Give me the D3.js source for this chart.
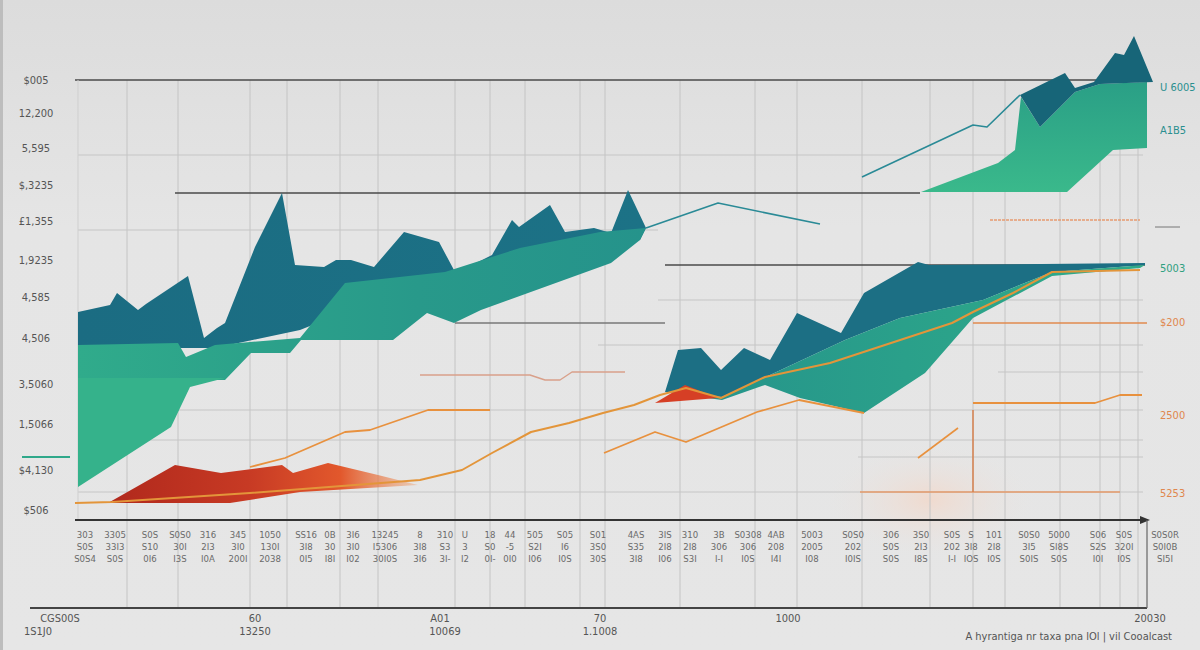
<!DOCTYPE html>
<html><head><meta charset="utf-8">
<script src="https://cdn.jsdelivr.net/npm/d3@7"></script>
<style>html,body{margin:0;padding:0;background:#e4e4e4;}svg{display:block;}</style>
</head><body>
<svg id="chart" width="1200" height="650"></svg>
<script>
// ---------- data (chart units) ----------
const leftTickLabels = ["$005","12,200","5,595","$,3235","£1,355","1,9235","4,585","4,506","3,5060","1,5066","$4,130","$506"];
const leftTickValues = [88,81.4,74.4,67,59.8,52,44.6,36.4,27.2,19.2,10,2];
const rightLabels = ["U 6005","A1B5","5003","$200","2500","5253"];
const rightValues = [86.6,78,50.4,39.6,21,5.4];
const rightKinds = ["teal","teal","green","orange","orange","orange"];

const darkLeft = [[0,41.6],[3.2,43],[3.9,45.4],[6,42],[6.8,43.2],[11,48.8],[12.6,36.4],[13.9,38.4],[14.7,39.4],[17.7,54.6],[20.4,65.4],[21.7,51],[24.6,50.6],[25.8,52],[27.3,52],[29.6,50.6],[32.6,57.6],[36.1,55.6],[37.6,50],[38.8,50.4],[41.4,53],[43.4,60],[44.1,58.6],[47.2,63],[48.7,57.6],[51.6,58.4],[53.3,57.4],[55,66],[56.8,58.4],[56.2,56],[44.2,53],[32.2,46],[22.2,38],[13.7,34.4],[0,34.4]];
const midLeft = [[0,35],[10,35.4],[10.8,32.6],[13.7,35],[22.2,36.4],[26.7,47.4],[36.7,49.6],[44.2,54.4],[52.2,57.6],[56.8,58.4],[56.2,56],[53.3,51.4],[40.3,42],[37.6,39.4],[34.9,41.4],[31.5,36],[22.3,36],[21.2,33.4],[17.3,33.4],[14.7,28],[0,28]];
const greenLeft = [[0,28.4],[14.7,28.4],[11.2,26.6],[9.3,18.6],[0,6.6]];
const darkRight = [[58.7,25.6],[60,34],[62.3,34.4],[64.3,30],[66.6,34.4],[69.2,32],[71.9,41.4],[76.3,37.4],[78.6,45.4],[84,51.6],[85.1,51],[106.7,51.4],[106.7,51],[97.4,49.6],[90.5,44],[82.2,40.4],[76.7,36],[69.2,29],[64.4,24.6]];
const midRight = [[58.7,25.6],[64.4,24.6],[69.2,29],[76.7,36],[82.2,40.4],[90.5,44],[97.4,49.6],[106.7,51],[106.2,50.4],[97.4,48.8],[89.5,40.4],[84.7,29.4],[78.6,21.4],[72.2,24.4],[68.7,27],[64.4,24]];
const darkTopRight = [[94.2,85],[98.7,89.4],[99.7,86.4],[101.6,87.6],[103.7,93.4],[104.6,93],[105.6,96.8],[107.5,87.6],[102.2,87.2],[99.7,85.6],[96.2,78.6]];
const greenTopRight = [[84.3,65.6],[92,71.4],[93.7,74],[94.3,84.6],[96.2,78.6],[99.7,85.6],[102.2,87.2],[106.9,87.6],[106.9,74.4],[103.5,74],[98.9,65.6]];
const redLeft = [[3,3.4],[9.7,11],[14.3,9.4],[20.4,11],[21.5,9.4],[25,11.4],[30,9],[34,7],[22.2,5.6],[15.2,3.4],[3.7,3.4]];
const redMid = [[57.7,23.4],[60.7,27],[64,24.4]];

const tealLine1 = [[78.4,68.6],[89.5,79],[90.9,78.6],[94.2,85]];
const tealLine2 = [[56.8,58.4],[64,63.4],[74.2,59.2]];
const orange1 = [[-0.3,3.4],[3.4,3.6],[17.2,5.4],[34.2,8],[38.4,10],[41.4,13.4],[45.3,17.6],[49.1,19.4],[52.5,21.4],[55.6,23],[58.2,25],[60.8,26.4],[64.3,24.4],[68.7,28.6],[75.2,31.4],[87.4,39.4],[89.5,41.6],[93.5,45.4],[97.4,49.6],[106.2,50]];
const orange2 = [[17.2,10.6],[20.7,12.4],[26.7,17.6],[29.2,18],[35,22],[41.2,22]];
const orange3 = [[52.6,13.4],[57.7,17.6],[60.8,15.6],[67.9,21.6],[72.1,24],[78.6,21.4]];
const orange4 = [[84,12.4],[88,18.4]];
const orange5 = [[89.5,23.4],[101.7,23.4],[104.2,25],[106.4,25]];
const salmon1 = [[34.2,29],[45.2,29],[46.7,28],[48.2,28],[49.4,29.6],[54.7,29.6]];
const salmon2 = [[91.2,60],[106.2,60]];
const orangeH1 = [[89.5,39.4],[106.9,39.4]];
const orangeH2 = [[78.2,5.6],[104.2,5.6]];
const orangeV = [[89.5,22],[89.5,5.6]];

const darkHLines = [[88,-0.3,107.2],[65.4,9.7,84.2],[51,58.7,106.7]];
const midHLines = [[39.4,37.7,58.7]];
const lightHLines = [[73,0,106.5],[58,0,58],[44,58,106.5],[35,52,106.5],[29.6,92,106.5],[22,0,106.5],[16,0,106.5],[12.6,78,106.5],[5.6,0,106.5]];
const vGrid = [4.9,10,17.2,20.9,26.2,30,37.7,41.2,44.7,50.2,52.7,60.2,67.7,71.9,78.4,85.2,89.5,92.7,98.2,102.2,104.2,106];

const colX = [0.7,3.7,7.2,10.2,13,16,19.2,22.8,25.2,27.5,30.7,34.2,36.7,38.7,41.2,43.2,45.7,48.7,52,55.8,58.7,61.2,64.1,67,69.8,73.4,77.5,81.3,84.3,87.4,89.3,91.6,95.1,98.1,102,104.6,108.7];
const row1 = ["303","3305","S0S","S0S0","316","345","1050","SS16","0B","3I6","13245","8","310","U","18","44","505","S05","S01","4AS","3IS","310","3B","S0308","4AB","5003","S0S0","306","3S0","S0S","S","101","S0S0","5000","S06","S0S","S0S0R"];
const row2 = ["S0S","33I3","S10","30I","2I3","3I0","130I","3I8","30","3I0","I5306","3I8","S3","3","S0","-5","S2I","I6","3S0","S35","2I8","2I8","306","306","208","2005","202","S0S","2I3","202","3I8","2I8","3I5","SI8S","S2S","320I","S0I0B"];
const row3 = ["S0S4","S0S","0I6","I3S","I0A","200I","2038","0I5","I8I","I02","30I0S","3I6","3I-","I2","0I-","0I0","I06","I0S","30S","3I8","I06","S3I","I-I","I0S","I4I","I08","I0IS","S0S","I8S","I-I","IOS","I0S","S0IS","S0S","I0I","I0S","SI5I"];
const lowerLabelsA = [["CGS00S",-1.8],["60",17.7],["A01",36.2],["70",52.2],["1000",71],["20030",107.2]];
const lowerLabelsB = [["1S1J0",-4],["13250",17.7],["10069",36.7],["1.1008",52.2]];
const footer = "A hyrantiga nr taxa pna lOl | vil Cooalcast";

// ---------- scales ----------
const x = d3.scaleLinear().domain([0,106.7]).range([78,1145]);
const y = d3.scaleLinear().domain([0,96]).range([520,40]);

const svg = d3.select("#chart");
const defs = svg.append("defs");
function lg(id, stops, x2="100%", y2="0%"){
  const g = defs.append("linearGradient").attr("id",id).attr("x1","0%").attr("y1","0%").attr("x2",x2).attr("y2",y2);
  stops.forEach(s=>g.append("stop").attr("offset",s[0]).attr("stop-color",s[1]).attr("stop-opacity",s[2]==null?1:s[2]));
}
lg("bg",[["0%","#dcdcdc"],["35%","#e5e5e5"],["100%","#e6e6e6"]],"0%","100%");
lg("mid",[["0%","#30ab8b"],["30%","#2ca28a"],["60%","#28998a"],["100%","#25938b"]]);
lg("darkG",[["0%","#1b6c82"],["100%","#1c7286"]]);
lg("red",[["0%","#b0281c"],["45%","#c73a24"],["75%","#e2582c"],["100%","#f08a4a",0.3]]);
lg("tr",[["0%","#2a9f86"],["100%","#3ab98b"]],"0%","100%");
lg("midR",[["0%","#25928b"],["50%","#2aa08a"],["100%","#30ab89"]]);
const rg = defs.append("radialGradient").attr("id","pink");
rg.append("stop").attr("offset","0%").attr("stop-color","#f1d9cc").attr("stop-opacity",0.9);
rg.append("stop").attr("offset","100%").attr("stop-color","#e6e6e6").attr("stop-opacity",0);

svg.append("rect").attr("width",1200).attr("height",650).attr("fill","url(#bg)");
svg.append("rect").attr("x",0).attr("y",0).attr("width",3).attr("height",650).attr("fill","#bdbdbd");
svg.append("ellipse").attr("cx",930).attr("cy",500).attr("rx",110).attr("ry",60).attr("fill","url(#pink)");

const line = d3.line().x(d=>x(d[0])).y(d=>y(d[1]));
const poly = (data, fill, op=1) => svg.append("path").attr("d", line(data)+"Z").attr("fill",fill).attr("opacity",op);
const path = (data, stroke, w, dash) => svg.append("path").attr("d", line(data)).attr("fill","none").attr("stroke",stroke).attr("stroke-width",w).attr("stroke-linejoin","round").attr("stroke-dasharray",dash||null);

// grid
const g = svg.append("g");
vGrid.forEach(v=>g.append("line").attr("x1",x(v)).attr("x2",x(v)).attr("y1",y(88)).attr("y2",y(-17.6)).attr("stroke","#c4c4c4").attr("stroke-width",1));
lightHLines.forEach(h=>g.append("line").attr("x1",x(h[1])).attr("x2",x(h[2])).attr("y1",y(h[0])).attr("y2",y(h[0])).attr("stroke","#c6c6c6").attr("stroke-width",1.2));
midHLines.forEach(h=>g.append("line").attr("x1",x(h[1])).attr("x2",x(h[2])).attr("y1",y(h[0])).attr("y2",y(h[0])).attr("stroke","#777").attr("stroke-width",1.5));
darkHLines.forEach(h=>g.append("line").attr("x1",x(h[1])).attr("x2",x(h[2])).attr("y1",y(h[0])).attr("y2",y(h[0])).attr("stroke","#4a4a4a").attr("stroke-width",1.6));
g.append("line").attr("x1",x(0)).attr("x2",x(0)).attr("y1",y(88)).attr("y2",y(0)).attr("stroke","#cfcfcf");

// areas
poly(darkLeft,"url(#darkG)");
poly(midLeft,"url(#mid)");
poly(greenLeft,"#35b28b");
poly(darkRight,"#1c6f84");
poly(midRight,"url(#midR)");
poly(greenTopRight,"url(#tr)");
poly(darkTopRight,"#176578");
poly(redLeft,"url(#red)");
poly(redMid,"#d63f25");

// lines
path(tealLine1,"#2a8a96",1.6);
path(tealLine2,"#2a8a96",1.6);
path(salmon1,"#d9a08a",1.4);
path(salmon2,"#e69a70",1.4,"3,1");
path(orangeH1,"#e08a4e",1.6);
path(orangeH2,"#e59a6a",1.4);
path(orangeV,"#d67b45",1.4);
path(orange2,"#e8913e",1.8);
path(orange3,"#e8913e",1.8);
path(orange4,"#e8913e",1.6);
path(orange5,"#e8913e",1.8);
path(orange1,"#e3953a",2);

// axes lines
svg.append("line").attr("x1",x(-0.3)).attr("x2",x(106.2)).attr("y1",y(0)).attr("y2",y(0)).attr("stroke","#333").attr("stroke-width",2);
svg.append("path").attr("d",`M${x(106.2)},${y(0)-4}L${x(107.2)},${y(0)}L${x(106.2)},${y(0)+4}Z`).attr("fill","#333");
svg.append("line").attr("x1",x(-4.8)).attr("x2",x(106.9)).attr("y1",y(-17.6)).attr("y2",y(-17.6)).attr("stroke","#444").attr("stroke-width",1.8);
svg.append("line").attr("x1",x(106.9)).attr("x2",x(106.9)).attr("y1",y(0)).attr("y2",y(-17.6)).attr("stroke","#666").attr("stroke-width",1.2);
svg.append("line").attr("x1",x(-5.6)).attr("x2",x(-0.8)).attr("y1",y(12.6)).attr("y2",y(12.6)).attr("stroke","#2fa88a").attr("stroke-width",2);

const font = "'Liberation Sans Narrow','DejaVu Sans Condensed','Liberation Sans',sans-serif";
// left labels
leftTickValues.forEach((v,i)=>svg.append("text").attr("x",36).attr("y",y(v)+4).attr("text-anchor","middle")
  .attr("font-family",font).attr("font-size",11).attr("fill","#555").text(leftTickLabels[i]));
// right labels
const rc = {teal:"#2a8f8f",green:"#2fa080",orange:"#e0874e"};
rightValues.forEach((v,i)=>svg.append("text").attr("x",1160).attr("y",y(v)+4).attr("text-anchor","start")
  .attr("font-family",font).attr("font-size",11).attr("fill",rc[rightKinds[i]]).text(rightLabels[i]));
svg.append("line").attr("x1",1155).attr("x2",1180).attr("y1",y(58.6)).attr("y2",y(58.6)).attr("stroke","#777").attr("stroke-width",1);

// bottom tick rows
[row1,row2,row3].forEach((row,r)=>row.forEach((t,i)=>svg.append("text").attr("x",x(colX[i])).attr("y",538+r*12)
  .attr("text-anchor","middle").attr("font-family",font).attr("font-size",9.5).attr("fill","#6a6a6a").text(t)));
lowerLabelsA.forEach(d=>svg.append("text").attr("x",x(d[1])).attr("y",622).attr("text-anchor","middle")
  .attr("font-family",font).attr("font-size",11).attr("fill","#555").text(d[0]));
lowerLabelsB.forEach(d=>svg.append("text").attr("x",x(d[1])).attr("y",635).attr("text-anchor","middle")
  .attr("font-family",font).attr("font-size",11).attr("fill","#555").text(d[0]));
svg.append("text").attr("x",1172).attr("y",640).attr("text-anchor","end").attr("font-family",font)
  .attr("font-size",11).attr("fill","#555").text(footer);
</script>
</body></html>
